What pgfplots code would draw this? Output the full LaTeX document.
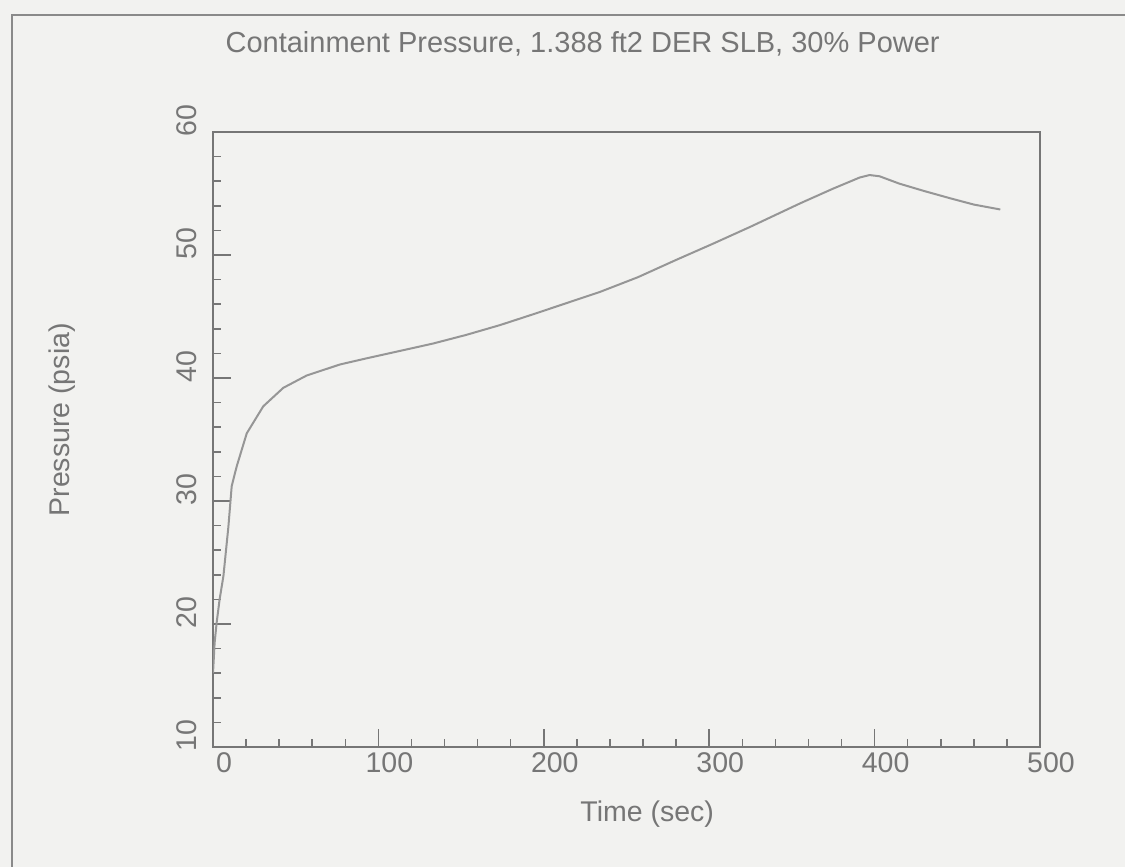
\documentclass[border=0pt]{standalone}
\usepackage{fontspec}
\setmainfont{Liberation Sans}
\usepackage{pgfplots}
\pgfplotsset{compat=1.18}
\definecolor{paper}{RGB}{242,242,240}
\definecolor{ink}{RGB}{118,118,118}
\definecolor{curve}{RGB}{150,150,150}

\begin{document}
\begin{tikzpicture}[x=1pt,y=1pt]
% scanned page background and the frame edge
\fill[paper] (0,0) rectangle (450,346.8);
\draw[ink!85, line width=0.7pt] (4.8,0) -- (4.8,340.8) -- (450,340.8);

\begin{axis}[
    at={(85.2pt,48pt)}, anchor=south west,
    width=330.8pt, height=246pt, scale only axis,
    xmin=0, xmax=500, ymin=10, ymax=60,
    xtick={0,100,...,500}, ytick={10,20,...,60},
    minor x tick num=4, minor y tick num=4,
    tick align=inside, xtick pos=left, ytick pos=left,
    major tick length=7.2pt, minor tick length=3.2pt,
    axis line style={draw=ink, line width=0.8pt},
    every tick/.style={ink, line width=0.6pt},
    /pgf/number format/assume math mode=true,
    tick label style={font=\fontsize{11.4}{13}\selectfont, text=ink},
    xticklabel style={xshift=4.4pt, yshift=1.4pt},
    yticklabel style={xshift=-3pt, yshift=4.4pt, rotate=90, anchor=south},
    title={Containment Pressure, 1.388 ft2 DER SLB, 30\% Power},
    title style={at={(axis description cs:0.447,1.119)}, anchor=center,
        font=\fontsize{11.6}{13}\selectfont, text=ink},
    xlabel={Time (sec)},
    xlabel style={at={(axis description cs:0.525,-0.109)}, anchor=center,
        font=\fontsize{11.4}{13}\selectfont, text=ink},
    ylabel={Pressure (psia)},
    ylabel style={at={(axis description cs:-0.183,0.532)}, anchor=center,
        font=\fontsize{11.4}{13}\selectfont, text=ink},
]
\addplot[curve, line width=0.8pt] coordinates {
    (0,16.0) (1,18.5) (2.2,20.1) (4,22.0) (6.3,23.9) (9.3,27.9)
    (11.3,31.2) (14.3,32.8) (20.4,35.5) (30.4,37.7) (42.5,39.2)
    (56.6,40.2) (76.8,41.1) (92.9,41.6) (113,42.2) (133,42.8)
    (153,43.5) (173.5,44.3) (194,45.2) (214,46.1) (234,47.0)
    (257,48.2) (280,49.6) (302,50.9) (325,52.3) (355,54.2)
    (375,55.4) (391,56.3) (397,56.5) (403,56.4) (415,55.8)
    (430,55.2) (446,54.6) (460,54.1) (476,53.7)
};
\end{axis}
\pgfresetboundingbox
\path (0,0) rectangle (450,346.8);
\end{tikzpicture}
\end{document}
